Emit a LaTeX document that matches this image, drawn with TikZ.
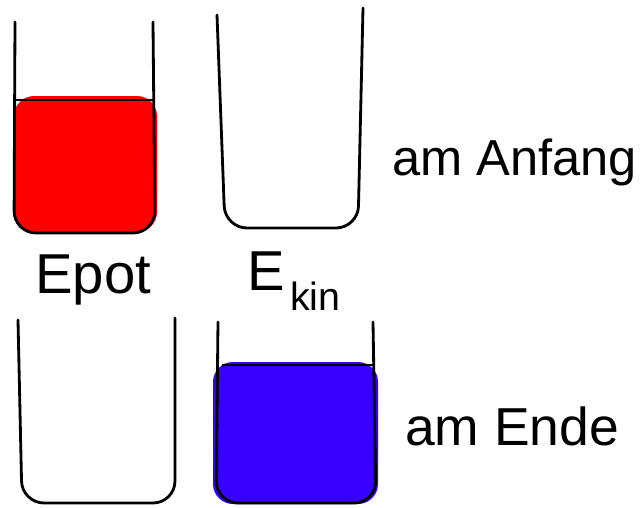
\documentclass[tikz,border=0pt]{standalone}
\usepackage{fontspec}
\setmainfont{Liberation Sans}

\tikzset{
    beaker/.style={draw=black, line width=2pt, rounded corners=0.55cm, line join=round, line cap=round},
    level/.style={draw=black, line width=1.6pt},
    label/.style={anchor=base west, inner sep=0pt, font=\fontsize{40}{40}\selectfont}
}

\begin{document}
\begin{tikzpicture}[x=0.025cm, y=-0.025cm]
    % Colours of the two fillings
    \definecolor{potred}{RGB}{255, 0, 0}      % Potential energy
    \definecolor{kinblue}{RGB}{55, 0, 255}    % Kinetic energy

    \useasboundingbox (0,0) rectangle (644,507);

    % Fillings first, so the beaker walls lie on top
    \fill[potred, rounded corners=0.5cm] (14,96) rectangle (157,232);
    \fill[kinblue, rounded corners=0.5cm] (213,362) rectangle (378,504);

    % Beakers - top row: at the start, bottom row: at the end
    \draw[beaker] (15,22) -- (14,233) -- (155,233) -- (153,22);
    \draw[beaker] (217,15) -- (225,228) -- (358,228) -- (363,8);
    \draw[beaker] (18,320) -- (22,503) -- (175,503) -- (175,318);
    \draw[beaker] (218,322) -- (216,503) -- (376,503) -- (373,322);

    % Fill levels
    \draw[level] (15,100) -- (154,100);
    \draw[level] (222,365) -- (374,365);

    % Energy labels between the rows
    \node[label] (epot) at (35,293) {Epot};
    \node[label] (ekin) at (247,290) {E};
    \node[label, font=\fontsize{28}{28}\selectfont] (kin) at (290,310) {kin};

    % Time labels on the right
    \node[label, font=\fontsize{36}{36}\selectfont] (start) at (392,175) {am Anfang};
    \node[label, font=\fontsize{38}{38}\selectfont] (end) at (405,445) {am Ende};

\end{tikzpicture}
\end{document}
